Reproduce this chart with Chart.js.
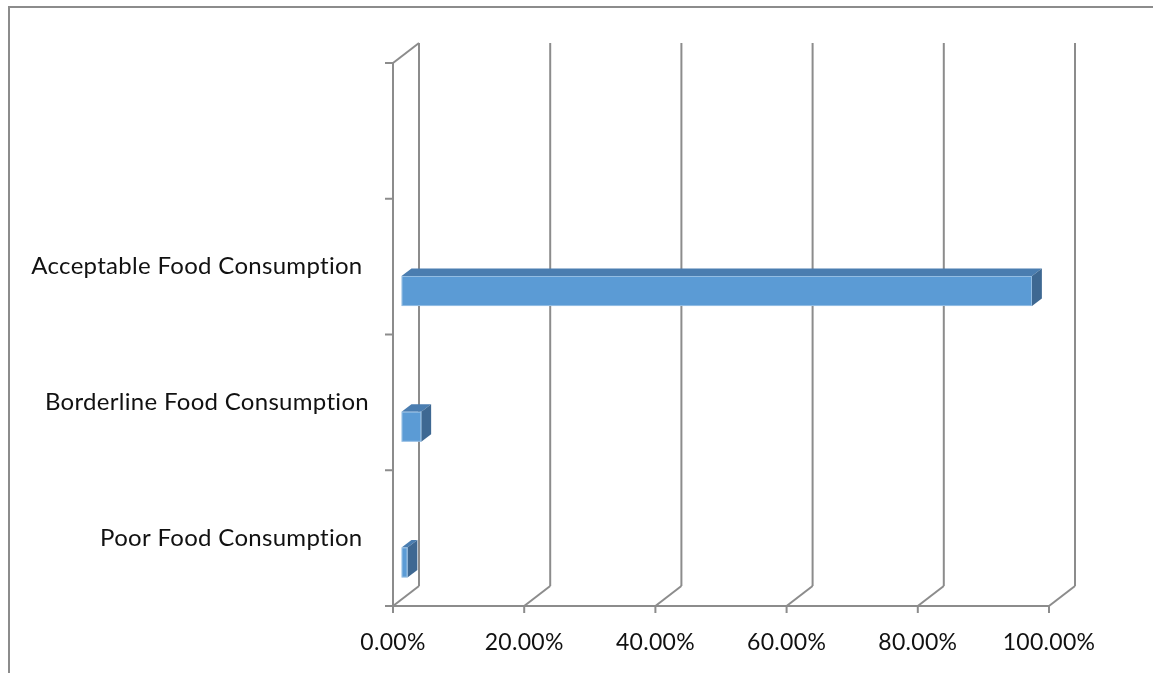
<!DOCTYPE html>
<html>
<head>
<meta charset="utf-8">
<script src="https://cdn.jsdelivr.net/npm/chart.js@4"></script>
<style>
  html, body { margin: 0; padding: 0; background: #fff; overflow: hidden; }
  #wrap { position: relative; width: 1153px; height: 673px; overflow: hidden; }
  #frame { position: absolute; left: 8px; top: 6px; width: 1300px; height: 800px;
           border-left: 2px solid #8c8c8c; border-top: 2px solid #8c8c8c; }
  canvas { position: absolute; left: 0; top: 0; }
</style>
</head>
<body>
<div id="wrap">
  <div id="frame"></div>
  <canvas id="foodChart" width="1153" height="673"></canvas>
</div>
<script>
// categories top to bottom (first slot is empty in the original)
const categories = ['', 'Acceptable Food Consumption ', 'Borderline Food Consumption', 'Poor Food Consumption '];
const shares = [null, 0.961, 0.030, 0.009];
const xTicks = [0, 0.2, 0.4, 0.6, 0.8, 1.0];

const FONT_FAMILY = 'Lato, "Open Sans", sans-serif';
const LINE = '#8c8c8c';
// oblique depth of the 3D box, bar sits in the middle part of it
const DEPTH = { dx: 26, dy: -20 };
const BAR_FRONT = 0.33, BAR_BACK = 0.71;

const fmt = v => (v * 100).toFixed(2) + '%';

const box3d = {
  id: 'box3d',
  beforeDraw(chart) {
    // a little tracking, also stops the "ti" ligature of Lato
    chart.ctx.letterSpacing = '0.3px';
  },
  beforeDatasetsDraw(chart) {
    const { ctx, chartArea: a, scales: { x } } = chart;
    ctx.save();
    ctx.strokeStyle = LINE;
    ctx.lineWidth = 2;
    const line = (x1, y1, x2, y2) => { ctx.beginPath(); ctx.moveTo(x1, y1); ctx.lineTo(x2, y2); ctx.stroke(); };

    // back wall gridlines + floor diagonals + bottom ticks
    xTicks.forEach(v => {
      const px = x.getPixelForValue(v);
      line(px + DEPTH.dx, a.top + DEPTH.dy, px + DEPTH.dx, a.bottom + DEPTH.dy);
      line(px, a.bottom, px + DEPTH.dx, a.bottom + DEPTH.dy);
      line(px, a.bottom, px, a.bottom + 7);
    });
    // left side wall
    line(a.left, a.top, a.left, a.bottom);
    line(a.left, a.top, a.left + DEPTH.dx, a.top + DEPTH.dy);
    // front floor edge
    line(a.left, a.bottom, a.right, a.bottom);
    // category ticks on boundaries
    const n = categories.length;
    for (let i = 0; i <= n; i++) {
      const py = a.top + (a.bottom - a.top) * i / n;
      line(a.left - 8, py, a.left, py);
    }
    ctx.restore();
  },
  afterDatasetsDraw(chart) {
    const { ctx } = chart;
    const meta = chart.getDatasetMeta(1);
    const fx = DEPTH.dx * BAR_FRONT, fy = DEPTH.dy * BAR_FRONT;
    const bx = DEPTH.dx * (BAR_BACK - BAR_FRONT), by = DEPTH.dy * (BAR_BACK - BAR_FRONT);
    ctx.save();
    meta.data.forEach((el, i) => {
      if (shares[i] == null) return;
      const { x: xEnd, y: yc, base, height } = el.getProps(['x', 'y', 'base', 'height'], true);
      const x0 = base + fx, x1 = xEnd + fx;
      const y0 = yc - height / 2 + fy, y1 = yc + height / 2 + fy;
      // top face
      ctx.fillStyle = '#4a7db0';
      ctx.beginPath();
      ctx.moveTo(x0, y0); ctx.lineTo(x0 + bx, y0 + by); ctx.lineTo(x1 + bx, y0 + by); ctx.lineTo(x1, y0);
      ctx.closePath(); ctx.fill();
      // side face
      ctx.fillStyle = '#3e6892';
      ctx.beginPath();
      ctx.moveTo(x1, y0); ctx.lineTo(x1 + bx, y0 + by); ctx.lineTo(x1 + bx, y1 + by); ctx.lineTo(x1, y1);
      ctx.closePath(); ctx.fill();
      // front face
      ctx.fillStyle = '#5b9bd5';
      ctx.fillRect(x0, y0, x1 - x0, y1 - y0);
      ctx.strokeStyle = 'rgba(255,255,255,0.35)';
      ctx.lineWidth = 1;
      ctx.strokeRect(x0 + 0.5, y0 + 0.5, x1 - x0 - 1, y1 - y0 - 1);
    });
    ctx.restore();
  }
};

new Chart(document.getElementById('foodChart'), {
  type: 'bar',
  data: {
    labels: categories,
    datasets: [
      { label: '', data: [], backgroundColor: 'rgba(0,0,0,0)' },
      { label: 'Share of households', data: shares, backgroundColor: 'rgba(0,0,0,0)', borderWidth: 0 }
    ]
  },
  options: {
    indexAxis: 'y',
    responsive: false,
    animation: false,
    categoryPercentage: 0.913,
    barPercentage: 0.485,
    layout: { padding: { top: 63, right: 104, left: 0, bottom: 0 } },
    plugins: { legend: { display: false }, tooltip: { enabled: false } },
    scales: {
      x: {
        min: 0, max: 1,
        grid: { display: false },
        border: { display: false },
        ticks: { stepSize: 0.2, callback: v => fmt(v), color: '#111',
                 font: { family: FONT_FAMILY, size: 23 }, padding: 15, maxRotation: 0 },
        afterFit: s => { s.height = 67; }
      },
      y: {
        grid: { display: false },
        border: { display: false },
        ticks: { color: '#111', font: { family: FONT_FAMILY, size: 24 }, padding: 16 },
        afterFit: s => { s.width = 393; }
      }
    }
  },
  plugins: [box3d]
});
</script>
</body>
</html>
